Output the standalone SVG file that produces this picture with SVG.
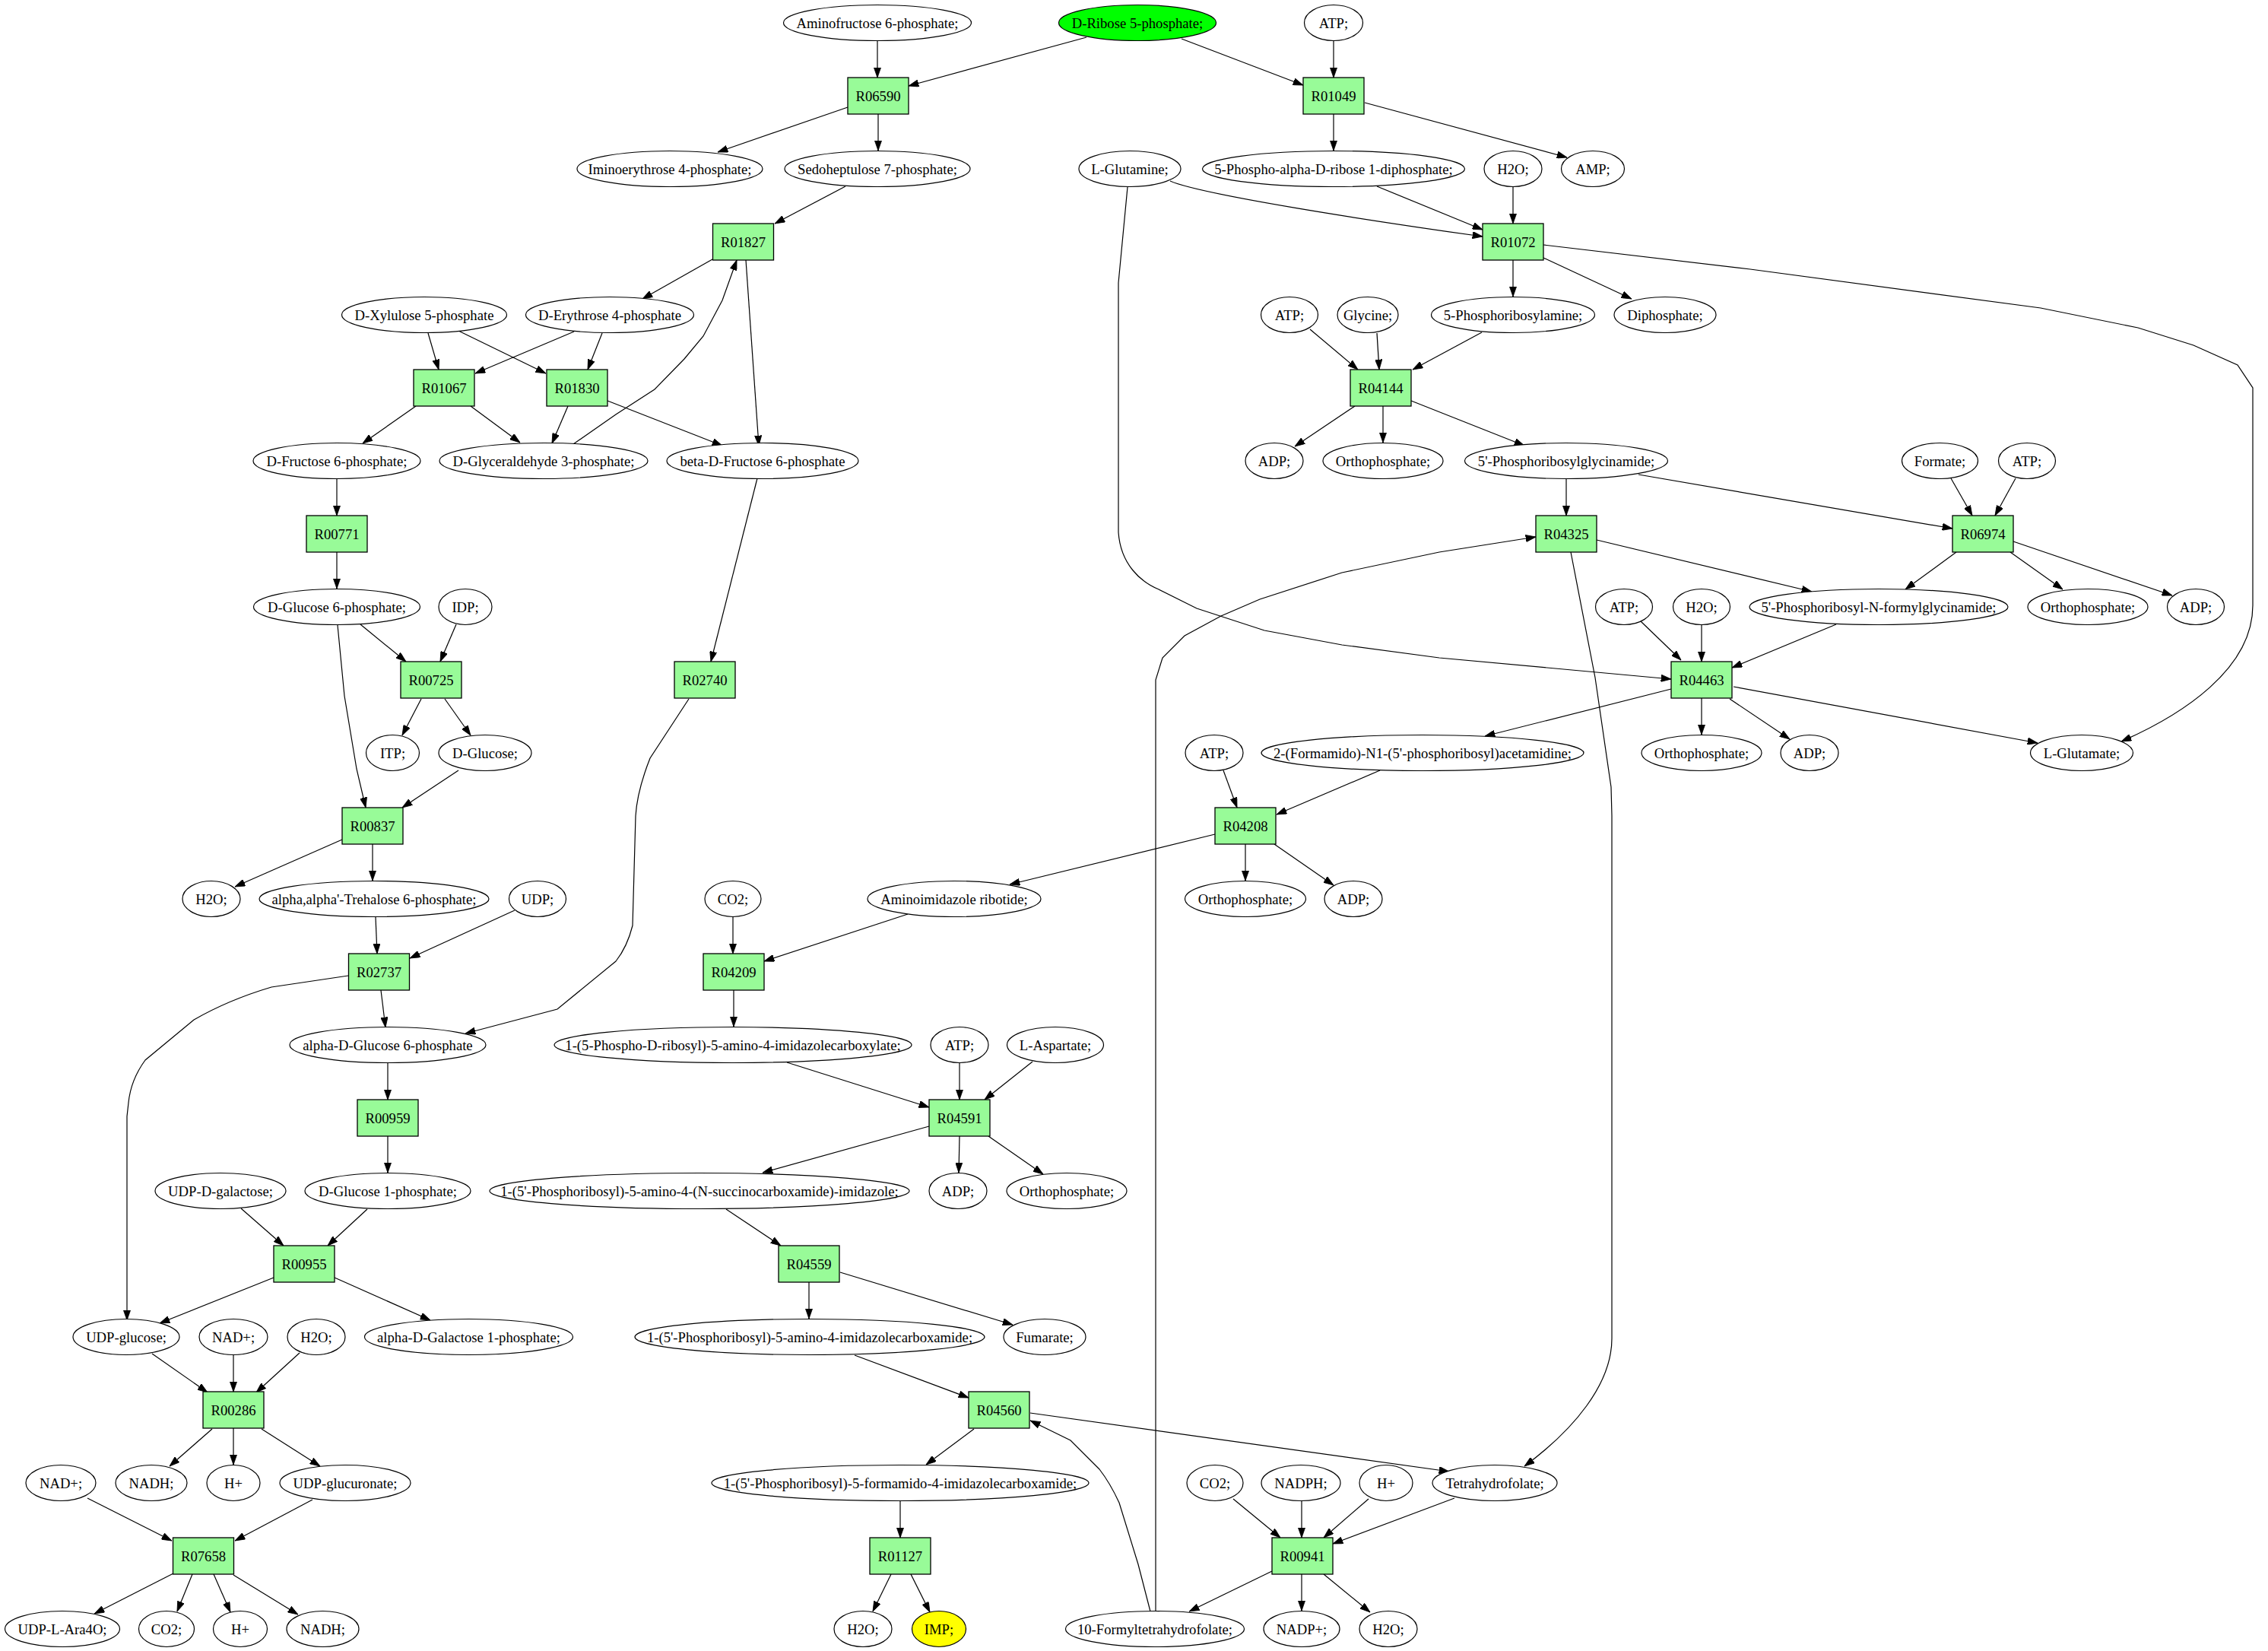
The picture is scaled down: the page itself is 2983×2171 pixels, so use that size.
<svg xmlns="http://www.w3.org/2000/svg" width="2983" height="2171" viewBox="0 0 2983 2171">
<style>
.m ellipse{fill:#ffffff;stroke:#000000;stroke-width:1.2}
.r rect{fill:#98fb98;stroke:#000000;stroke-width:1.3}
text{font-family:"Liberation Serif","Times New Roman",serif;font-size:18.67px;text-anchor:middle;fill:#000000}
#edges path{fill:none;stroke:#000000;stroke-width:1.2;marker-end:url(#arr)}
</style>
<defs>
<marker id="arr" markerUnits="userSpaceOnUse" viewBox="0 0 13.33 9.33" refX="13.33" refY="4.67" markerWidth="13.33" markerHeight="9.33" orient="auto">
<path d="M0,0 L13.33,4.67 L0,9.33 z" fill="#000000" stroke="#000000" stroke-width="0.8"/>
</marker>
</defs>
<rect x="0" y="0" width="2983" height="2171" fill="#ffffff"/>
<g id="edges">
<path d="M1154,54 L1154,102"/>
<path d="M1429,49 L1195,113"/>
<path d="M1554,51 L1714,112"/>
<path d="M1754,54 L1754,102"/>
<path d="M1115,141 L944,200"/>
<path d="M1155,150 L1155,198"/>
<path d="M1754,150 L1754,198"/>
<path d="M1795,135 L2061,207"/>
<path d="M1112,245 L1019,294"/>
<path d="M1539,238 C1580,256 1800,290 1950,311"/>
<path d="M1811,245 L1950,302"/>
<path d="M1990,246 L1990,294"/>
<path d="M1483,246 L1471,372 L1471,700 C1474,742 1500,765 1524,775 L1574,800 L1663,829 L1765,848 L1893,865 L2198,893"/>
<path d="M1990,342 L1990,390"/>
<path d="M2030,339 L2146,393"/>
<path d="M2030,322 L2302,354 L2684,405 L2812,431 L2885,454 L2943,480 L2963,510 L2963,796 C2963,880 2870,940 2790,975"/>
<path d="M1723,433 L1786,486"/>
<path d="M1811,438 L1814,486"/>
<path d="M1949,437 L1858,486"/>
<path d="M1782,534 L1703,587"/>
<path d="M1819,534 L1819,582"/>
<path d="M1856,527 L2005,586"/>
<path d="M2060,630 L2060,678"/>
<path d="M2155,624 L2568,695"/>
<path d="M2566,629 L2594,678"/>
<path d="M2651,629 L2624,678"/>
<path d="M1520,2118 L1520,894 L1529,865 L1558,836 L1606,810 L1657,788 L1765,753 L1893,726 L2020,706"/>
<path d="M2100,710 L2383,778"/>
<path d="M2066,726 L2098,891 L2119,1035 L2120,1073 L2120,1760 C2120,1820 2070,1880 2005,1928"/>
<path d="M2573,726 L2506,775"/>
<path d="M2644,726 L2713,775"/>
<path d="M2648,712 L2857,783"/>
<path d="M2158,817 L2211,868"/>
<path d="M2238,822 L2238,870"/>
<path d="M2415,821 L2278,878"/>
<path d="M2238,918 L2238,966"/>
<path d="M2275,919 L2354,972"/>
<path d="M2280,903 L2680,977"/>
<path d="M2198,906 L1953,968"/>
<path d="M1609,1013 L1627,1062"/>
<path d="M1815,1013 L1679,1071"/>
<path d="M1598,1097 L1328,1163"/>
<path d="M1638,1110 L1638,1158"/>
<path d="M1676,1110 L1754,1164"/>
<path d="M964,1206 L964,1254"/>
<path d="M1194,1202 L1005,1264"/>
<path d="M965,1302 L965,1350"/>
<path d="M1035,1397 L1222,1456"/>
<path d="M1262,1398 L1262,1446"/>
<path d="M1358,1396 L1295,1446"/>
<path d="M1222,1481 L1003,1542"/>
<path d="M1262,1494 L1261,1542"/>
<path d="M1300,1494 L1372,1544"/>
<path d="M955,1590 L1027,1638"/>
<path d="M1064,1686 L1064,1734"/>
<path d="M1105,1673 L1332,1742"/>
<path d="M1124,1782 L1274,1838"/>
<path d="M1281,1879 L1218,1926"/>
<path d="M1355,1858 L1906,1935"/>
<path d="M1513,2119 L1497,2057 L1472,1976 Q1460,1950 1446,1932 L1408,1894 L1355,1868"/>
<path d="M1184,1974 L1184,2022"/>
<path d="M1172,2070 L1148,2119"/>
<path d="M1198,2070 L1223,2120"/>
<path d="M1622,1971 L1684,2022"/>
<path d="M1712,1974 L1712,2022"/>
<path d="M1800,1971 L1741,2022"/>
<path d="M1913,1970 L1753,2030"/>
<path d="M1673,2066 L1564,2119"/>
<path d="M1712,2070 L1712,2118"/>
<path d="M1741,2070 L1802,2120"/>
<path d="M937,341 L845,393"/>
<path d="M981,342 L998,586"/>
<path d="M754,584 L810,545 L861,512 L900,472 L925,442 L950,395 L969,342"/>
<path d="M563,438 L577,486"/>
<path d="M603,435 L718,491"/>
<path d="M755,436 L625,491"/>
<path d="M792,438 L773,486"/>
<path d="M547,534 L477,583"/>
<path d="M619,534 L684,582"/>
<path d="M747,534 L726,583"/>
<path d="M799,527 L950,586"/>
<path d="M443,630 L443,678"/>
<path d="M996,629 L935,870"/>
<path d="M443,726 L443,774"/>
<path d="M474,821 L534,870"/>
<path d="M600,821 L579,870"/>
<path d="M444,822 L453,915 L469,1011 L481,1062"/>
<path d="M554,919 L529,967"/>
<path d="M585,919 L619,967"/>
<path d="M603,1013 L529,1062"/>
<path d="M450,1104 L309,1166"/>
<path d="M490,1110 L490,1158"/>
<path d="M494,1206 L496,1254"/>
<path d="M677,1197 L539,1260"/>
<path d="M501,1302 L507,1351"/>
<path d="M458,1283 L357,1298 Q300,1315 255,1341 L191,1394 Q172,1420 169,1450 L167,1468 L167,1736"/>
<path d="M906,919 L855,997 Q838,1040 836,1073 L832,1217 Q825,1245 810,1264 L733,1327 L612,1359"/>
<path d="M510,1398 L510,1446"/>
<path d="M510,1494 L510,1542"/>
<path d="M317,1589 L373,1638"/>
<path d="M483,1590 L431,1638"/>
<path d="M360,1680 L210,1740"/>
<path d="M440,1680 L566,1736"/>
<path d="M200,1780 L273,1831"/>
<path d="M307,1782 L307,1830"/>
<path d="M394,1779 L337,1831"/>
<path d="M279,1879 L223,1928"/>
<path d="M307,1878 L307,1926"/>
<path d="M344,1879 L421,1928"/>
<path d="M115,1970 L226,2026"/>
<path d="M411,1972 L309,2026"/>
<path d="M228,2069 L124,2122"/>
<path d="M253,2070 L233,2119"/>
<path d="M281,2070 L303,2120"/>
<path d="M307,2071 L392,2123"/>
</g>
<g id="nodes">
<g id="m_aminofructose6p" class="m"><ellipse cx="1154" cy="30" rx="123.5" ry="23.5"/><text x="1154" y="36.5">Aminofructose 6-phosphate;</text></g>
<g id="m_dribose5p" class="m"><ellipse cx="1496" cy="30" rx="103.5" ry="23.5" style="fill:#00ff00"/><text x="1496" y="36.5">D-Ribose 5-phosphate;</text></g>
<g id="m_atp_0" class="m"><ellipse cx="1754" cy="30" rx="38.5" ry="23.5"/><text x="1754" y="36.5">ATP;</text></g>
<g id="r_R06590" class="r"><rect x="1115" y="102" width="80" height="48"/><text x="1155" y="132.5">R06590</text></g>
<g id="r_R01049" class="r"><rect x="1714" y="102" width="80" height="48"/><text x="1754" y="132.5">R01049</text></g>
<g id="m_iminoerythrose4p" class="m"><ellipse cx="881" cy="222" rx="122" ry="23.5"/><text x="881" y="228.5">Iminoerythrose 4-phosphate;</text></g>
<g id="m_sedoheptulose7p" class="m"><ellipse cx="1154" cy="222" rx="122" ry="23.5"/><text x="1154" y="228.5">Sedoheptulose 7-phosphate;</text></g>
<g id="m_lglutamine" class="m"><ellipse cx="1486" cy="222" rx="67" ry="23.5"/><text x="1486" y="228.5">L-Glutamine;</text></g>
<g id="m_prpp" class="m"><ellipse cx="1754" cy="222" rx="172.5" ry="23.5"/><text x="1754" y="228.5">5-Phospho-alpha-D-ribose 1-diphosphate;</text></g>
<g id="m_h2o_2" class="m"><ellipse cx="1990" cy="222" rx="38" ry="23.5"/><text x="1990" y="228.5">H2O;</text></g>
<g id="m_amp" class="m"><ellipse cx="2095" cy="222" rx="41.5" ry="23.5"/><text x="2095" y="228.5">AMP;</text></g>
<g id="r_R01827" class="r"><rect x="937.5" y="294" width="80" height="48"/><text x="977.5" y="324.5">R01827</text></g>
<g id="r_R01072" class="r"><rect x="1950" y="294" width="80" height="48"/><text x="1990" y="324.5">R01072</text></g>
<g id="m_dxylulose5p" class="m"><ellipse cx="558" cy="414" rx="108.5" ry="23.5"/><text x="558" y="420.5">D-Xylulose 5-phosphate</text></g>
<g id="m_derythrose4p" class="m"><ellipse cx="802" cy="414" rx="110.5" ry="23.5"/><text x="802" y="420.5">D-Erythrose 4-phosphate</text></g>
<g id="m_atp_4" class="m"><ellipse cx="1696" cy="414" rx="37.5" ry="23.5"/><text x="1696" y="420.5">ATP;</text></g>
<g id="m_glycine" class="m"><ellipse cx="1799" cy="414" rx="40" ry="23.5"/><text x="1799" y="420.5">Glycine;</text></g>
<g id="m_prpamine" class="m"><ellipse cx="1990" cy="414" rx="107.5" ry="23.5"/><text x="1990" y="420.5">5-Phosphoribosylamine;</text></g>
<g id="m_diphosphate" class="m"><ellipse cx="2190" cy="414" rx="67" ry="23.5"/><text x="2190" y="420.5">Diphosphate;</text></g>
<g id="r_R01067" class="r"><rect x="544" y="486" width="80" height="48"/><text x="584" y="516.5">R01067</text></g>
<g id="r_R01830" class="r"><rect x="719" y="486" width="80" height="48"/><text x="759" y="516.5">R01830</text></g>
<g id="r_R04144" class="r"><rect x="1776" y="486" width="80" height="48"/><text x="1816" y="516.5">R04144</text></g>
<g id="m_dfructose6p" class="m"><ellipse cx="443" cy="606" rx="110" ry="23.5"/><text x="443" y="612.5">D-Fructose 6-phosphate;</text></g>
<g id="m_dglyceraldehyde3p" class="m"><ellipse cx="715" cy="606" rx="137" ry="23.5"/><text x="715" y="612.5">D-Glyceraldehyde 3-phosphate;</text></g>
<g id="m_betadfructose6p" class="m"><ellipse cx="1003" cy="606" rx="126" ry="23.5"/><text x="1003" y="612.5">beta-D-Fructose 6-phosphate</text></g>
<g id="m_adp_6" class="m"><ellipse cx="1676" cy="606" rx="38" ry="23.5"/><text x="1676" y="612.5">ADP;</text></g>
<g id="m_orthophosphate_6" class="m"><ellipse cx="1819" cy="606" rx="79" ry="23.5"/><text x="1819" y="612.5">Orthophosphate;</text></g>
<g id="m_gar" class="m"><ellipse cx="2060" cy="606" rx="133.5" ry="23.5"/><text x="2060" y="612.5">5'-Phosphoribosylglycinamide;</text></g>
<g id="m_formate" class="m"><ellipse cx="2551.5" cy="606" rx="50" ry="23.5"/><text x="2551.5" y="612.5">Formate;</text></g>
<g id="m_atp_6" class="m"><ellipse cx="2666" cy="606" rx="37.5" ry="23.5"/><text x="2666" y="612.5">ATP;</text></g>
<g id="r_R00771" class="r"><rect x="403" y="678" width="80" height="48"/><text x="443" y="708.5">R00771</text></g>
<g id="r_R04325" class="r"><rect x="2020" y="678" width="80" height="48"/><text x="2060" y="708.5">R04325</text></g>
<g id="r_R06974" class="r"><rect x="2568" y="678" width="80" height="48"/><text x="2608" y="708.5">R06974</text></g>
<g id="m_dglucose6p" class="m"><ellipse cx="443" cy="798" rx="109.5" ry="23.5"/><text x="443" y="804.5">D-Glucose 6-phosphate;</text></g>
<g id="m_idp" class="m"><ellipse cx="612" cy="798" rx="35" ry="23.5"/><text x="612" y="804.5">IDP;</text></g>
<g id="m_atp_8" class="m"><ellipse cx="2136" cy="798" rx="37.5" ry="23.5"/><text x="2136" y="804.5">ATP;</text></g>
<g id="m_h2o_8" class="m"><ellipse cx="2238" cy="798" rx="37.5" ry="23.5"/><text x="2238" y="804.5">H2O;</text></g>
<g id="m_fgar" class="m"><ellipse cx="2471" cy="798" rx="170" ry="23.5"/><text x="2471" y="804.5">5'-Phosphoribosyl-N-formylglycinamide;</text></g>
<g id="m_orthophosphate_8" class="m"><ellipse cx="2746" cy="798" rx="79" ry="23.5"/><text x="2746" y="804.5">Orthophosphate;</text></g>
<g id="m_adp_8" class="m"><ellipse cx="2888" cy="798" rx="37.5" ry="23.5"/><text x="2888" y="804.5">ADP;</text></g>
<g id="r_R00725" class="r"><rect x="527" y="870" width="80" height="48"/><text x="567" y="900.5">R00725</text></g>
<g id="r_R02740" class="r"><rect x="887" y="870" width="80" height="48"/><text x="927" y="900.5">R02740</text></g>
<g id="r_R04463" class="r"><rect x="2198" y="870" width="80" height="48"/><text x="2238" y="900.5">R04463</text></g>
<g id="m_itp" class="m"><ellipse cx="516.5" cy="990" rx="35" ry="23.5"/><text x="516.5" y="996.5">ITP;</text></g>
<g id="m_dglucose" class="m"><ellipse cx="638" cy="990" rx="61" ry="23.5"/><text x="638" y="996.5">D-Glucose;</text></g>
<g id="m_atp_10" class="m"><ellipse cx="1597" cy="990" rx="38" ry="23.5"/><text x="1597" y="996.5">ATP;</text></g>
<g id="m_fgam" class="m"><ellipse cx="1871" cy="990" rx="212" ry="23.5"/><text x="1871" y="996.5">2-(Formamido)-N1-(5'-phosphoribosyl)acetamidine;</text></g>
<g id="m_orthophosphate_10" class="m"><ellipse cx="2238" cy="990" rx="79" ry="23.5"/><text x="2238" y="996.5">Orthophosphate;</text></g>
<g id="m_adp_10" class="m"><ellipse cx="2380" cy="990" rx="38" ry="23.5"/><text x="2380" y="996.5">ADP;</text></g>
<g id="m_lglutamate" class="m"><ellipse cx="2738" cy="990" rx="67.5" ry="23.5"/><text x="2738" y="996.5">L-Glutamate;</text></g>
<g id="r_R00837" class="r"><rect x="450" y="1062" width="80" height="48"/><text x="490" y="1092.5">R00837</text></g>
<g id="r_R04208" class="r"><rect x="1598" y="1062" width="80" height="48"/><text x="1638" y="1092.5">R04208</text></g>
<g id="m_h2o_12" class="m"><ellipse cx="278" cy="1182" rx="38" ry="23.5"/><text x="278" y="1188.5">H2O;</text></g>
<g id="m_trehalose6p" class="m"><ellipse cx="492" cy="1182" rx="151" ry="23.5"/><text x="492" y="1188.5">alpha,alpha'-Trehalose 6-phosphate;</text></g>
<g id="m_udp" class="m"><ellipse cx="707" cy="1182" rx="37.5" ry="23.5"/><text x="707" y="1188.5">UDP;</text></g>
<g id="m_co2_12" class="m"><ellipse cx="964" cy="1182" rx="37" ry="23.5"/><text x="964" y="1188.5">CO2;</text></g>
<g id="m_air" class="m"><ellipse cx="1255" cy="1182" rx="114" ry="23.5"/><text x="1255" y="1188.5">Aminoimidazole ribotide;</text></g>
<g id="m_orthophosphate_12" class="m"><ellipse cx="1638" cy="1182" rx="79.5" ry="23.5"/><text x="1638" y="1188.5">Orthophosphate;</text></g>
<g id="m_adp_12" class="m"><ellipse cx="1780" cy="1182" rx="38" ry="23.5"/><text x="1780" y="1188.5">ADP;</text></g>
<g id="r_R02737" class="r"><rect x="458.5" y="1254" width="80" height="48"/><text x="498.5" y="1284.5">R02737</text></g>
<g id="r_R04209" class="r"><rect x="925" y="1254" width="80" height="48"/><text x="965" y="1284.5">R04209</text></g>
<g id="m_adglucose6p" class="m"><ellipse cx="510" cy="1374" rx="129" ry="23.5"/><text x="510" y="1380.5">alpha-D-Glucose 6-phosphate</text></g>
<g id="m_cair" class="m"><ellipse cx="964" cy="1374" rx="235" ry="23.5"/><text x="964" y="1380.5">1-(5-Phospho-D-ribosyl)-5-amino-4-imidazolecarboxylate;</text></g>
<g id="m_atp_14" class="m"><ellipse cx="1262" cy="1374" rx="38" ry="23.5"/><text x="1262" y="1380.5">ATP;</text></g>
<g id="m_laspartate" class="m"><ellipse cx="1388" cy="1374" rx="63.5" ry="23.5"/><text x="1388" y="1380.5">L-Aspartate;</text></g>
<g id="r_R00959" class="r"><rect x="470" y="1446" width="80" height="48"/><text x="510" y="1476.5">R00959</text></g>
<g id="r_R04591" class="r"><rect x="1222" y="1446" width="80" height="48"/><text x="1262" y="1476.5">R04591</text></g>
<g id="m_udpgalactose" class="m"><ellipse cx="290" cy="1566" rx="86" ry="23.5"/><text x="290" y="1572.5">UDP-D-galactose;</text></g>
<g id="m_dglucose1p" class="m"><ellipse cx="510" cy="1566" rx="109" ry="23.5"/><text x="510" y="1572.5">D-Glucose 1-phosphate;</text></g>
<g id="m_saicar" class="m"><ellipse cx="920" cy="1566" rx="276" ry="23.5"/><text x="920" y="1572.5">1-(5'-Phosphoribosyl)-5-amino-4-(N-succinocarboxamide)-imidazole;</text></g>
<g id="m_adp_16" class="m"><ellipse cx="1260" cy="1566" rx="38" ry="23.5"/><text x="1260" y="1572.5">ADP;</text></g>
<g id="m_orthophosphate_16" class="m"><ellipse cx="1403" cy="1566" rx="79" ry="23.5"/><text x="1403" y="1572.5">Orthophosphate;</text></g>
<g id="r_R00955" class="r"><rect x="360" y="1638" width="80" height="48"/><text x="400" y="1668.5">R00955</text></g>
<g id="r_R04559" class="r"><rect x="1024" y="1638" width="80" height="48"/><text x="1064" y="1668.5">R04559</text></g>
<g id="m_udpglucose" class="m"><ellipse cx="166" cy="1758" rx="70" ry="23.5"/><text x="166" y="1764.5">UDP-glucose;</text></g>
<g id="m_nad_18" class="m"><ellipse cx="307" cy="1758" rx="45" ry="23.5"/><text x="307" y="1764.5">NAD+;</text></g>
<g id="m_h2o_18" class="m"><ellipse cx="416" cy="1758" rx="38" ry="23.5"/><text x="416" y="1764.5">H2O;</text></g>
<g id="m_adgalactose1p" class="m"><ellipse cx="616.5" cy="1758" rx="137" ry="23.5"/><text x="616.5" y="1764.5">alpha-D-Galactose 1-phosphate;</text></g>
<g id="m_aicar" class="m"><ellipse cx="1065" cy="1758" rx="230" ry="23.5"/><text x="1065" y="1764.5">1-(5'-Phosphoribosyl)-5-amino-4-imidazolecarboxamide;</text></g>
<g id="m_fumarate" class="m"><ellipse cx="1374" cy="1758" rx="54" ry="23.5"/><text x="1374" y="1764.5">Fumarate;</text></g>
<g id="r_R00286" class="r"><rect x="267" y="1830" width="80" height="48"/><text x="307" y="1860.5">R00286</text></g>
<g id="r_R04560" class="r"><rect x="1274" y="1830" width="80" height="48"/><text x="1314" y="1860.5">R04560</text></g>
<g id="m_nad_20" class="m"><ellipse cx="80" cy="1950" rx="46" ry="23.5"/><text x="80" y="1956.5">NAD+;</text></g>
<g id="m_nadh_20" class="m"><ellipse cx="199" cy="1950" rx="47" ry="23.5"/><text x="199" y="1956.5">NADH;</text></g>
<g id="m_h_20a" class="m"><ellipse cx="307" cy="1950" rx="35" ry="23.5"/><text x="307" y="1956.5">H+</text></g>
<g id="m_udpglucuronate" class="m"><ellipse cx="454" cy="1950" rx="86" ry="23.5"/><text x="454" y="1956.5">UDP-glucuronate;</text></g>
<g id="m_faicar" class="m"><ellipse cx="1184" cy="1950" rx="248" ry="23.5"/><text x="1184" y="1956.5">1-(5'-Phosphoribosyl)-5-formamido-4-imidazolecarboxamide;</text></g>
<g id="m_co2_20" class="m"><ellipse cx="1598" cy="1950" rx="37" ry="23.5"/><text x="1598" y="1956.5">CO2;</text></g>
<g id="m_nadph" class="m"><ellipse cx="1711" cy="1950" rx="52" ry="23.5"/><text x="1711" y="1956.5">NADPH;</text></g>
<g id="m_h_20b" class="m"><ellipse cx="1823" cy="1950" rx="35" ry="23.5"/><text x="1823" y="1956.5">H+</text></g>
<g id="m_thf" class="m"><ellipse cx="1966" cy="1950" rx="82" ry="23.5"/><text x="1966" y="1956.5">Tetrahydrofolate;</text></g>
<g id="r_R07658" class="r"><rect x="227.5" y="2022" width="80" height="48"/><text x="267.5" y="2052.5">R07658</text></g>
<g id="r_R01127" class="r"><rect x="1144" y="2022" width="80" height="48"/><text x="1184" y="2052.5">R01127</text></g>
<g id="r_R00941" class="r"><rect x="1673" y="2022" width="80" height="48"/><text x="1713" y="2052.5">R00941</text></g>
<g id="m_udplara4o" class="m"><ellipse cx="82" cy="2142" rx="75.5" ry="23.5"/><text x="82" y="2148.5">UDP-L-Ara4O;</text></g>
<g id="m_co2_22" class="m"><ellipse cx="219" cy="2142" rx="36.5" ry="23.5"/><text x="219" y="2148.5">CO2;</text></g>
<g id="m_h_22" class="m"><ellipse cx="316" cy="2142" rx="35.5" ry="23.5"/><text x="316" y="2148.5">H+</text></g>
<g id="m_nadh_22" class="m"><ellipse cx="424.5" cy="2142" rx="47.5" ry="23.5"/><text x="424.5" y="2148.5">NADH;</text></g>
<g id="m_h2o_22a" class="m"><ellipse cx="1135" cy="2142" rx="38" ry="23.5"/><text x="1135" y="2148.5">H2O;</text></g>
<g id="m_imp" class="m"><ellipse cx="1235" cy="2142" rx="35.5" ry="23.5" style="fill:#ffff00"/><text x="1235" y="2148.5">IMP;</text></g>
<g id="m_10fthf" class="m"><ellipse cx="1519" cy="2142" rx="117.5" ry="23.5"/><text x="1519" y="2148.5">10-Formyltetrahydrofolate;</text></g>
<g id="m_nadp" class="m"><ellipse cx="1712" cy="2142" rx="50" ry="23.5"/><text x="1712" y="2148.5">NADP+;</text></g>
<g id="m_h2o_22b" class="m"><ellipse cx="1826" cy="2142" rx="38" ry="23.5"/><text x="1826" y="2148.5">H2O;</text></g>
</g>
</svg>
